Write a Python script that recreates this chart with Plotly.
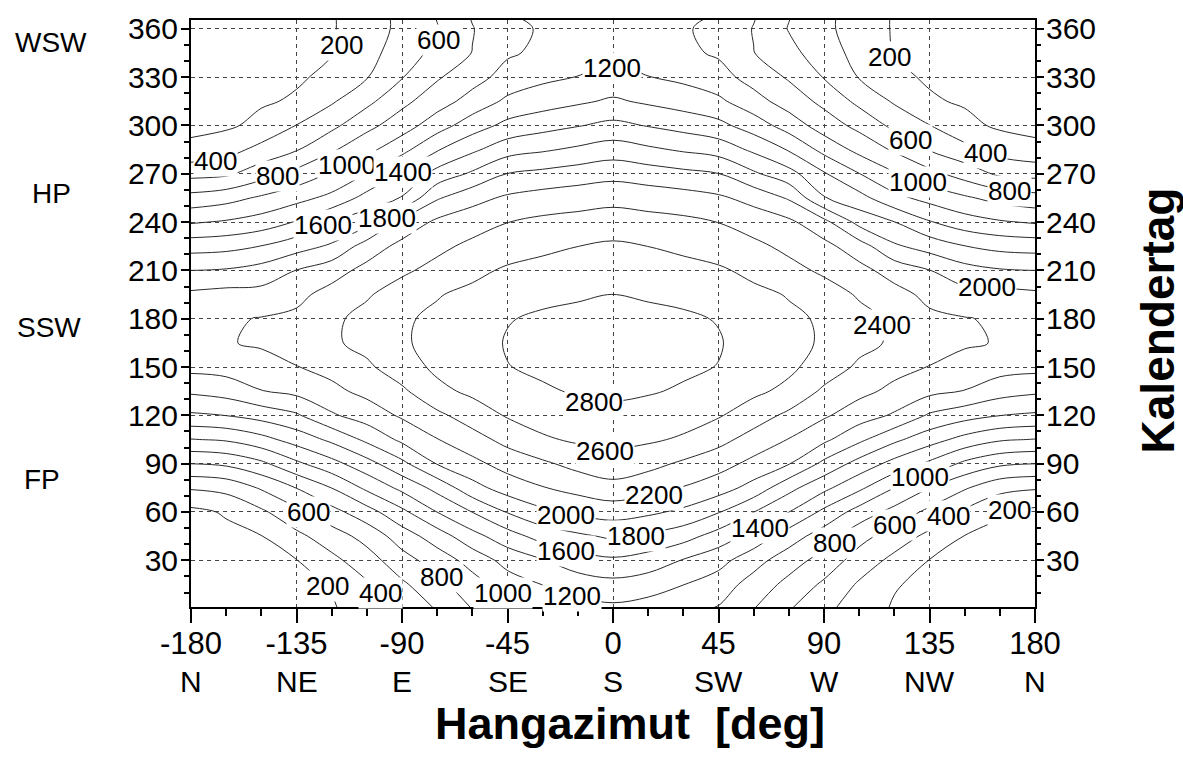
import plotly.graph_objects as go

# Slope azimuth (deg, 0 = south) and calendar day grid
AZIMUTH = [-180, -165, -150, -135, -120, -105, -90, -75, -60, -45, -30, -15, 0,
           15, 30, 45, 60, 75, 90, 105, 120, 135, 150, 165, 180]
DAYS = [0, 15, 30, 45, 60, 75, 90, 105, 120, 135, 150, 165, 180,
        195, 210, 225, 240, 255, 270, 285, 300, 315, 330, 345, 360, 366]

# Daily radiation sum on the slope, one row per calendar day
RADIATION = [
    [60, 70, 95, 130, 180, 300, 450, 615, 805, 985, 1040, 1115, 1155, 1115, 1040, 985, 805, 615, 450, 300, 180, 130, 95, 70, 60],
    [65, 80, 110, 150, 215, 375, 566, 743, 920, 1103, 1204, 1293, 1340, 1293, 1204, 1103, 920, 743, 566, 375, 215, 150, 110, 80, 65],
    [80, 100, 140, 195, 348, 512, 723, 891, 1077, 1271, 1388, 1513, 1567, 1513, 1388, 1271, 1077, 891, 723, 512, 348, 195, 140, 100, 80],
    [110, 150, 195, 351, 507, 670, 899, 1100, 1333, 1514, 1680, 1764, 1833, 1764, 1680, 1514, 1333, 1100, 899, 670, 507, 351, 195, 150, 110],
    [150, 220, 364, 548, 733, 918, 1153, 1402, 1603, 1812, 1957, 2041, 2087, 2041, 1957, 1812, 1603, 1402, 1153, 918, 733, 548, 364, 220, 150],
    [420, 462, 622, 805, 1003, 1242, 1450, 1662, 1929, 2090, 2190, 2268, 2336, 2268, 2190, 2090, 1929, 1662, 1450, 1242, 1003, 805, 622, 462, 420],
    [802, 837, 956, 1160, 1333, 1525, 1750, 2010, 2145, 2278, 2367, 2463, 2518, 2463, 2367, 2278, 2145, 2010, 1750, 1525, 1333, 1160, 956, 837, 802],
    [1192, 1224, 1333, 1483, 1643, 1844, 2043, 2193, 2323, 2461, 2574, 2629, 2650, 2629, 2574, 2461, 2323, 2193, 2043, 1844, 1643, 1483, 1333, 1224, 1192],
    [1570, 1603, 1677, 1774, 1974, 2095, 2227, 2357, 2494, 2618, 2684, 2729, 2750, 2729, 2684, 2618, 2494, 2357, 2227, 2095, 1974, 1774, 1677, 1603, 1570],
    [1833, 1881, 1994, 2052, 2153, 2252, 2364, 2550, 2640, 2700, 2780, 2815, 2835, 2815, 2780, 2700, 2640, 2550, 2364, 2252, 2153, 2052, 1994, 1881, 1833],
    [2060, 2080, 2109, 2195, 2260, 2365, 2510, 2640, 2690, 2795, 2830, 2855, 2875, 2855, 2830, 2795, 2690, 2640, 2510, 2365, 2260, 2195, 2109, 2080, 2060],
    [2155, 2185, 2230, 2260, 2370, 2460, 2580, 2650, 2710, 2815, 2845, 2868, 2885, 2868, 2845, 2815, 2710, 2650, 2580, 2460, 2370, 2260, 2230, 2185, 2155],
    [2140, 2175, 2210, 2240, 2365, 2455, 2580, 2630, 2690, 2790, 2828, 2845, 2860, 2845, 2828, 2790, 2690, 2630, 2580, 2455, 2365, 2240, 2210, 2175, 2140],
    [2040, 2070, 2069, 2150, 2270, 2380, 2490, 2590, 2640, 2699, 2756, 2780, 2803, 2780, 2756, 2699, 2640, 2590, 2490, 2380, 2270, 2150, 2069, 2070, 2040],
    [1800, 1818, 1878, 2005, 2118, 2261, 2366, 2460, 2558, 2624, 2661, 2690, 2713, 2690, 2661, 2624, 2558, 2460, 2366, 2261, 2118, 2005, 1878, 1818, 1800],
    [1520, 1540, 1605, 1719, 1830, 2092, 2258, 2353, 2445, 2518, 2559, 2599, 2629, 2599, 2559, 2518, 2445, 2353, 2258, 2092, 1830, 1719, 1605, 1540, 1520],
    [1180, 1222, 1289, 1415, 1605, 1735, 2060, 2241, 2313, 2397, 2444, 2469, 2500, 2469, 2444, 2397, 2313, 2241, 2060, 1735, 1605, 1415, 1289, 1222, 1180],
    [872, 929, 1031, 1134, 1255, 1470, 1613, 1978, 2136, 2232, 2282, 2311, 2337, 2311, 2282, 2232, 2136, 1978, 1613, 1470, 1255, 1134, 1031, 929, 872],
    [538, 564, 713, 862, 1021, 1205, 1421, 1673, 1832, 2005, 2052, 2098, 2138, 2098, 2052, 2005, 1832, 1673, 1421, 1205, 1021, 862, 713, 564, 538],
    [250, 322, 462, 586, 773, 942, 1139, 1383, 1562, 1717, 1775, 1836, 1897, 1836, 1775, 1717, 1562, 1383, 1139, 942, 773, 586, 462, 322, 250],
    [150, 170, 250, 405, 550, 744, 903, 1111, 1304, 1455, 1528, 1589, 1648, 1589, 1528, 1455, 1304, 1111, 903, 744, 550, 405, 250, 170, 150],
    [110, 130, 180, 220, 377, 550, 750, 910, 1077, 1240, 1310, 1369, 1429, 1369, 1310, 1240, 1077, 910, 750, 550, 377, 220, 180, 130, 110],
    [85, 100, 140, 180, 235, 390, 590, 778, 923, 1074, 1157, 1205, 1263, 1205, 1157, 1074, 923, 778, 590, 390, 235, 180, 140, 100, 85],
    [70, 80, 110, 150, 195, 330, 500, 657, 805, 975, 1040, 1110, 1150, 1110, 1040, 975, 805, 657, 500, 330, 195, 150, 110, 80, 70],
    [60, 70, 95, 130, 185, 300, 450, 590, 790, 960, 1015, 1080, 1120, 1080, 1015, 960, 790, 590, 450, 300, 185, 130, 95, 70, 60],
    [60, 70, 95, 130, 185, 300, 450, 605, 810, 975, 1035, 1100, 1150, 1100, 1035, 975, 810, 605, 450, 300, 185, 130, 95, 70, 60],
]

LEVEL_FIRST = 200
LEVEL_LAST = 2800
LEVEL_STEP = 200

X_TICKS = [-180, -135, -90, -45, 0, 45, 90, 135, 180]
X_DIRECTIONS = ["N", "NE", "E", "SE", "S", "SW", "W", "NW", "N"]
Y_TICKS = [30, 60, 90, 120, 150, 180, 210, 240, 270, 300, 330, 360]

# Astronomical marks written beside the left axis
SEASON_NAMES = ["WSW", "HP", "SSW", "FP"]

# Inline contour labels: (level, azimuth, day)
CONTOUR_LABELS = [
    (200, -116, 349.8), (600, -74.5, 352.8), (400, -169.5, 278), (800, -143, 268.7),
    (1000, -113.6, 275.3), (1400, -89.5, 271.2), (1600, -123.6, 238), (1800, -96.4, 242.4),
    (1200, -0.3, 335.8),
    (200, 118, 342.6), (600, 126.7, 291), (400, 159, 283), (1000, 130.3, 265),
    (800, 169, 259.5), (2000, 159.4, 200), (2400, 114.6, 176.3),
    (2800, -8, 128), (2600, -3.4, 97.7), (2200, 17.5, 70.4), (2000, -20, 58.3),
    (1800, 9.7, 45.4), (1600, -20, 35.7), (1200, -17.5, 8), (1000, -47, 9.7),
    (600, -130, 60.3), (200, -121.7, 14), (400, -99, 9.7), (800, -73, 19.7),
    (1400, 62.7, 50), (800, 94.3, 41), (600, 120, 52), (400, 143, 57.6),
    (200, 169, 61.5), (1000, 131, 81.7),
]

FONT = "Liberation Sans, Arial, sans-serif"
W, H = 1183, 758
L, R, T, B = 191, 148, 15, 151
PW, PH = W - L - R, H - T - B


def px_to_paper(px, py):
    return (px - L) / PW, (H - B - py) / PH


fig = go.Figure()
fig.add_trace(go.Contour(
    x=AZIMUTH, y=DAYS, z=RADIATION,
    contours=dict(start=LEVEL_FIRST, end=LEVEL_LAST, size=LEVEL_STEP,
                  coloring="none", showlabels=False),
    line=dict(color="#2a2a2a", width=1, smoothing=1.0),
    showscale=False, hoverinfo="skip",
))
# empty trace so the right-hand day axis is drawn
fig.add_trace(go.Scatter(x=[], y=[], yaxis="y2", showlegend=False, hoverinfo="skip"))

annotations = []
for level, az, day in CONTOUR_LABELS:
    annotations.append(dict(
        x=az, y=day, xref="x", yref="y", text=str(level), showarrow=False,
        font=dict(family=FONT, size=26, color="black"),
        bgcolor="white", borderpad=0, xanchor="center", yanchor="middle",
    ))

# compass direction under each azimuth tick number
_, dir_y = px_to_paper(0, 682)
for v, d in zip(X_TICKS, X_DIRECTIONS):
    annotations.append(dict(
        x=v, y=dir_y, xref="x", yref="paper", text=d, showarrow=False,
        font=dict(family=FONT, size=30, color="black"),
        xanchor="center", yanchor="middle",
    ))

season_px = [(51, 38), (51, 190), (49, 325), (42, 478)]
for name, (sx, sy) in zip(SEASON_NAMES, season_px):
    px, py = px_to_paper(sx, sy)
    annotations.append(dict(
        x=px, y=py, xref="paper", yref="paper", text=name, showarrow=False,
        font=dict(family=FONT, size=28, color="black"),
        xanchor="center", yanchor="middle",
    ))

tx, ty = px_to_paper(630, 724)
annotations.append(dict(
    x=tx, y=ty, xref="paper", yref="paper", text="<b>Hangazimut  [deg]</b>",
    showarrow=False, font=dict(family=FONT, size=45, color="black"),
    xanchor="center", yanchor="middle",
))
kx, ky = px_to_paper(1158, 318)
annotations.append(dict(
    x=kx, y=ky, xref="paper", yref="paper", text="<b>Kalendertag</b>",
    showarrow=False, textangle=-90, font=dict(family=FONT, size=46, color="black"),
    xanchor="center", yanchor="middle",
))

grid = dict(showgrid=True, gridcolor="#444444", gridwidth=1, griddash="4px,4px")
y_font = dict(family=FONT, size=30, color="black")
x_font = dict(family=FONT, size=31, color="black")

fig.update_layout(
    width=W, height=H,
    margin=dict(l=L, r=R, t=T, b=B, pad=0),
    paper_bgcolor="white", plot_bgcolor="white",
    showlegend=False,
    annotations=annotations,
    xaxis=dict(
        range=[-180, 180], tickmode="array", tickvals=X_TICKS,
        ticktext=[str(v) for v in X_TICKS],
        ticks="outside", ticklen=14, tickwidth=2, tickcolor="black",
        ticklabelstandoff=-6,
        showline=True, linecolor="black", linewidth=2, mirror=True,
        tickfont=x_font, zeroline=False,
        minor=dict(dtick=15, tick0=0, ticks="outside", ticklen=7, tickwidth=1.5,
                   tickcolor="black", showgrid=False),
        **grid,
    ),
    yaxis=dict(
        range=[1, 365.5], tickmode="array", tickvals=Y_TICKS,
        ticks="outside", ticklen=8, tickwidth=2, tickcolor="black",
        ticklabelstandoff=-3,
        showline=True, linecolor="black", linewidth=2, mirror=True,
        tickfont=y_font, zeroline=False,
        minor=dict(dtick=10, tick0=0, ticks="outside", ticklen=5, tickwidth=1.5,
                   tickcolor="black", showgrid=False),
        **grid,
    ),
    yaxis2=dict(
        overlaying="y", side="right", range=[1, 365.5], tickmode="array",
        tickvals=Y_TICKS, ticks="outside", ticklen=8, tickwidth=2, tickcolor="black",
        ticklabelstandoff=-4,
        showline=False, showgrid=False, zeroline=False, tickfont=y_font,
        minor=dict(dtick=10, tick0=0, ticks="outside", ticklen=5, tickwidth=1.5,
                   tickcolor="black", showgrid=False),
    ),
)

fig.write_html("out.html")
